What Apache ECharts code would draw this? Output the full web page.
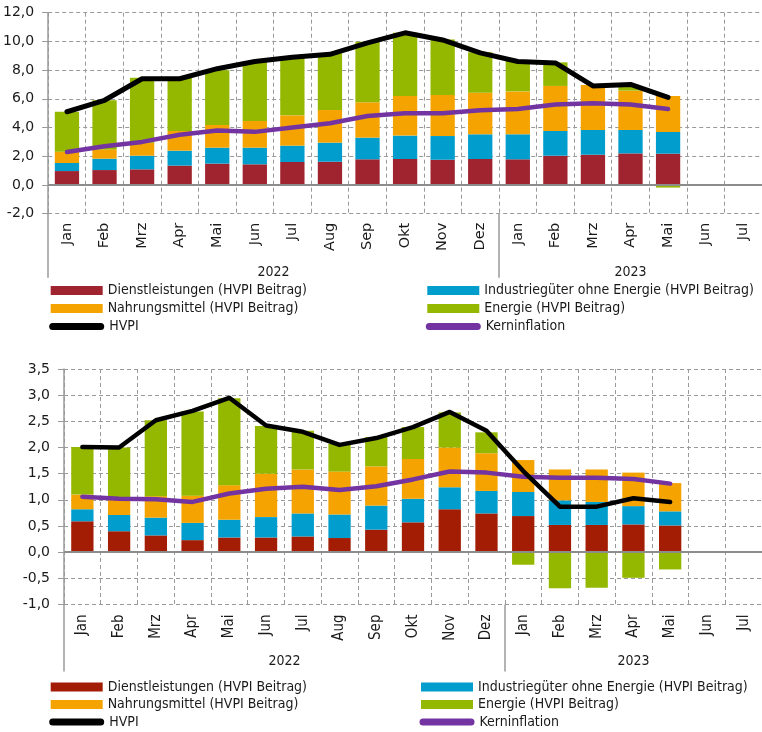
<!DOCTYPE html>
<html><head><meta charset="utf-8">
<script src="https://cdn.jsdelivr.net/npm/echarts@6/dist/echarts.min.js"></script>
<style>html,body{margin:0;padding:0;background:#fff}#c{width:762px;height:732px}</style>
</head><body><div id="c"></div>
<script>
// ---------- data ----------
const months = ['Jan','Feb','Mrz','Apr','Mai','Jun','Jul','Aug','Sep','Okt','Nov','Dez','Jan','Feb','Mrz','Apr','Mai','Jun','Jul'];
const years = ['2022','2023'];
const yearCenters = [6, 15.5];   // middle of each year's month span (in month units)
const yearBreaks = [0, 12];      // boundaries where a new year starts

const seriesNames = ['Dienstleistungen (HVPI Beitrag)','Industriegüter ohne Energie (HVPI Beitrag)','Nahrungsmittel (HVPI Beitrag)','Energie (HVPI Beitrag)','HVPI','Kerninflation'];

// chart 1
const dienst1    = [0.97,1.04,1.09,1.35,1.49,1.44,1.60,1.62,1.79,1.81,1.76,1.81,1.79,2.04,2.11,2.20,2.18];
const industrie1 = [0.56,0.79,0.95,1.04,1.11,1.16,1.14,1.33,1.51,1.63,1.65,1.72,1.74,1.72,1.72,1.63,1.51];
const nahrung1   = [0.79,0.65,0.91,1.37,1.58,1.86,2.11,2.27,2.46,2.76,2.86,2.90,2.99,3.14,3.13,2.74,2.51];
const energie1   = [2.78,3.42,4.52,3.71,3.82,4.17,3.97,3.95,4.22,4.40,3.87,2.81,2.18,1.64,0.00,0.25,-0.18];
const hvpi1      = [5.1,5.9,7.4,7.4,8.1,8.6,8.9,9.1,9.9,10.6,10.1,9.2,8.6,8.5,6.9,7.0,6.1];
const kern1      = [2.3,2.7,3.0,3.5,3.8,3.7,4.0,4.3,4.8,5.0,5.0,5.2,5.3,5.6,5.7,5.6,5.3];

// chart 2
const dienst2    = [0.59,0.40,0.32,0.23,0.28,0.28,0.30,0.27,0.43,0.57,0.82,0.74,0.69,0.52,0.52,0.53,0.51];
const industrie2 = [0.23,0.31,0.34,0.33,0.34,0.39,0.44,0.45,0.46,0.45,0.42,0.43,0.46,0.47,0.44,0.35,0.27];
const nahrung2   = [0.28,0.34,0.41,0.52,0.66,0.83,0.84,0.82,0.75,0.76,0.76,0.72,0.61,0.59,0.62,0.64,0.54];
const energie2   = [0.91,0.95,1.45,1.61,1.66,0.91,0.74,0.53,0.56,0.61,0.67,0.40,-0.24,-0.69,-0.68,-0.49,-0.33];
const hvpi2      = [2.01,2.00,2.52,2.70,2.95,2.42,2.30,2.05,2.18,2.39,2.68,2.32,1.55,0.87,0.87,1.03,0.96];
const kern2      = [1.06,1.02,1.01,0.96,1.12,1.21,1.25,1.19,1.26,1.39,1.54,1.52,1.44,1.42,1.42,1.40,1.31];

const yTicks1 = {min:-2, max:12, interval:2};
const yTicks2 = {min:-1, max:3.5, interval:0.5};

// ---------- style ----------
const colors1 = ['#A0242F','#009DCD','#F5A300','#94B800','#000000','#7333A1'];
const colors2 = ['#A31D04','#009DCD','#F5A300','#94B800','#000000','#7333A1'];
const gridGrey = '#9a9a9a';
const txt = '#1a1a1a';
const FONT = 'DejaVu Sans';
const FONTC = 'DejaVu Sans Condensed';
const SUFFIX = ' #2';
const capsule = 'path://M3.5,0 H51.5 A3.5,3.5 0 0 1 51.5,7 H3.5 A3.5,3.5 0 0 1 3.5,0 Z';

const fmtY = v => v.toFixed(1).replace('.', ',');
const yearLabel = v => { const i = yearCenters.indexOf(v); return i >= 0 ? years[i] : ''; };

function buildAxes(gi, yt, monthFont, monthSize, monthMargin, sepLen, yearMargin) {
  const x = [
    { type:'category', gridIndex:gi, data:months, position:'bottom',
      axisLine:{show:false}, axisTick:{show:false},
      axisLabel:{interval:0, rotate:90, margin:monthMargin, fontFamily:monthFont, fontSize:monthSize, color:txt},
      splitLine:{show:true, lineStyle:{type:[4,3], color:gridGrey, width:1}} },
    { type:'value', gridIndex:gi, min:0, max:months.length, position:'bottom',
      axisLine:{show:false}, splitLine:{show:false},
      axisTick:{show:true, customValues:yearBreaks, length:sepLen, lineStyle:{color:gridGrey, width:1.5}},
      axisLabel:{customValues:yearCenters, formatter:yearLabel, margin:yearMargin, fontFamily:FONTC, fontSize:14, color:txt} }
  ];
  const y = { type:'value', gridIndex:gi, min:yt.min, max:yt.max, interval:yt.interval,
    axisLine:{show:true, lineStyle:{color:gridGrey, width:1.5}},
    axisTick:{show:true, length:6, lineStyle:{color:gridGrey}},
    axisLabel:{formatter:fmtY, margin:14, fontFamily:FONT, fontSize:14, color:txt},
    splitLine:{show:true, lineStyle:{type:[4,3], color:gridGrey, width:1}} };
  return {x, y};
}

function buildSeries(gi, data, colors, suffix, barW, lineW) {
  const xi = gi * 2, yi = gi;
  const out = [];
  for (let k = 0; k < 4; k++) {
    const s = { name:seriesNames[k] + suffix, type:'bar', stack:'s' + gi, xAxisIndex:xi, yAxisIndex:yi,
      data:data[k], barWidth:barW, itemStyle:{color:colors[k]}, emphasis:{disabled:true} };
    if (k === 0) s.markLine = { silent:true, symbol:'none', label:{show:false}, animation:false,
      lineStyle:{color:'#8c8c8c', type:'solid', width:1.8}, data:[{yAxis:0}] };
    out.push(s);
  }
  [5, 4].forEach(k => out.push({ name:seriesNames[k] + suffix, type:'line', xAxisIndex:xi, yAxisIndex:yi,
    data:data[k], showSymbol:false, symbol:'none', z:5 + (k === 4 ? 1 : 0),
    color:colors[k], lineStyle:{color:colors[k], width:lineW[k - 4], cap:'round', join:'round'},
    emphasis:{disabled:true} }));
  return out;
}

function buildLegends(suffix, top, rowGap, leftX, rightX) {
  const ts = {fontFamily:FONTC, fontSize:14, color:txt};
  const fm = n => n.replace(SUFFIX, '');
  const common = {orient:'vertical', itemGap:rowGap - 14, textStyle:ts, formatter:fm, selectedMode:false, padding:0};
  return [
    Object.assign({}, common, {left:leftX, top:top - 7, itemWidth:52, itemHeight:9, icon:'rect',
      data:[seriesNames[0] + suffix, seriesNames[2] + suffix]}),
    Object.assign({}, common, {left:rightX, top:top - 7, itemWidth:52, itemHeight:9, icon:'rect',
      data:[seriesNames[1] + suffix, seriesNames[3] + suffix]}),
    Object.assign({}, common, {left:leftX - 1.5, top:top + 2 * rowGap - 7, itemWidth:55, itemHeight:7, icon:capsule,
      data:[seriesNames[4] + suffix]}),
    Object.assign({}, common, {left:rightX - 1.5, top:top + 2 * rowGap - 7, itemWidth:55, itemHeight:7, icon:capsule,
      data:[seriesNames[5] + suffix]})
  ];
}

const a1 = buildAxes(0, yTicks1, FONT, 14.5, 9, 64, 52);
const a2 = buildAxes(1, yTicks2, FONTC, 15, 10, 67, 50);

const option = {
  animation:false,
  backgroundColor:'#ffffff',
  grid:[
    {left:48, top:12.7, right:0, height:201, containLabel:false},
    {left:64, top:369, right:-1, height:235.5, containLabel:false}
  ],
  xAxis:[...a1.x, ...a2.x],
  yAxis:[a1.y, a2.y],
  legend:[...buildLegends('', 290.5, 18, 50.7, 427.3),
          ...buildLegends(SUFFIX, 687, 17.5, 50.7, 421)],
  series:[
    ...buildSeries(0, [dienst1, industrie1, nahrung1, energie1, hvpi1, kern1], colors1, '', 24.3, [5, 4.5]),
    ...buildSeries(1, [dienst2, industrie2, nahrung2, energie2, hvpi2, kern2], colors2, SUFFIX, 22.3, [4.5, 4.5])
  ]
};
const chart = echarts.init(document.getElementById('c'));
chart.setOption(option);
</script></body></html>
